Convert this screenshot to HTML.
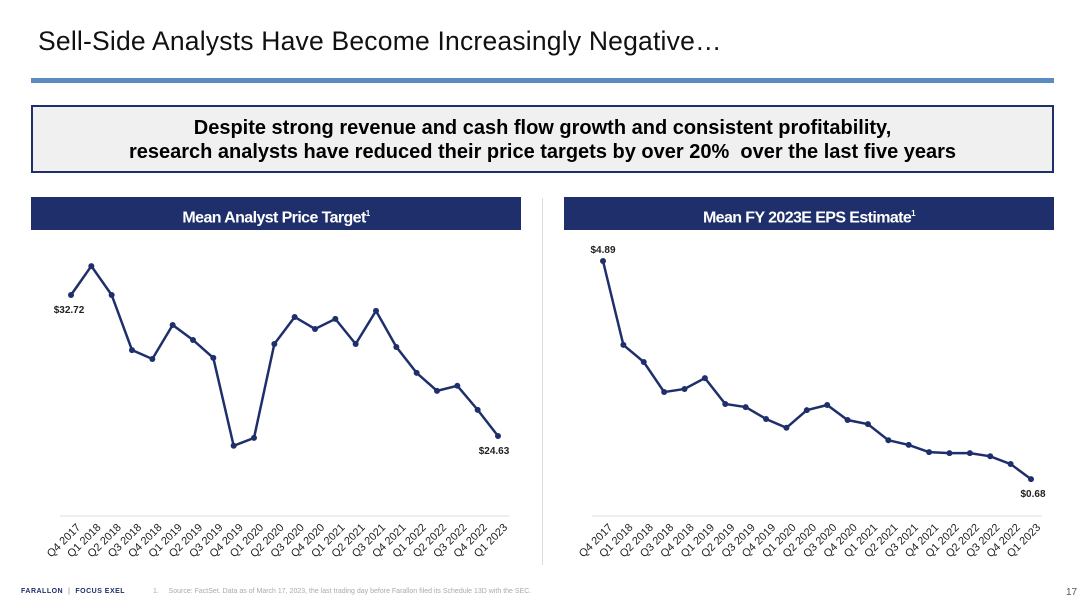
<!DOCTYPE html>
<html><head><meta charset="utf-8"><style>
body{margin:0;width:1088px;height:612px;background:#fff;font-family:"Liberation Sans",sans-serif;position:relative;overflow:hidden}
.abs{position:absolute}
.hdr{position:absolute;top:197px;height:33px;background:#1f2f6b;color:#fff;font-weight:bold;font-size:16px;line-height:33px;text-align:center;letter-spacing:-0.6px}
</style></head><body>
<div class="abs" style="left:38px;top:26px;font-size:26.5px;color:#111;letter-spacing:0.2px">Sell-Side Analysts Have Become Increasingly Negative…</div>
<div class="abs" style="left:31px;top:78px;width:1023px;height:5px;background:#5b8cc0"></div>
<div class="abs" style="left:31px;top:105px;width:1019px;border:2px solid #1f2f6b;background:#f0f0f0;text-align:center;font-weight:bold;font-size:20px;line-height:24px;padding-top:9px;height:55px">Despite strong revenue and cash flow growth and consistent profitability,<br>research analysts have reduced their price targets by over 20%&nbsp; over the last five years</div>
<div class="hdr" style="left:31px;width:490px">Mean Analyst Price Target<sup style="font-size:8px">1</sup></div>
<div class="hdr" style="left:564px;width:490px">Mean FY 2023E EPS Estimate<sup style="font-size:8px">1</sup></div>
<div class="abs" style="left:542px;top:198px;width:1px;height:367px;background:#ddd"></div>
<svg class="abs" style="left:0;top:0" width="1088" height="612">
<g id="c1"></g>
<g id="c2"></g>
</svg>
<div class="abs" style="left:21px;top:588px;font-size:7px;font-weight:bold;color:#1f2f6b;letter-spacing:0.5px">FARALLON &nbsp;<span style="color:#aaa">|</span>&nbsp; FOCUS EXEL</div>
<div class="abs" style="left:153px;top:588px;font-size:7px;color:#aaa">1. &nbsp;&nbsp;&nbsp;&nbsp;Source: FactSet. Data as of March 17, 2023, the last trading day before Farallon filed its Schedule 13D with the SEC.</div>
<div class="abs" style="left:1066px;top:587px;font-size:10px;color:#555">17</div>
<script>
const categories=["Q4 2017","Q1 2018","Q2 2018","Q3 2018","Q4 2018","Q1 2019","Q2 2019","Q3 2019","Q4 2019","Q1 2020","Q2 2020","Q3 2020","Q4 2020","Q1 2021","Q2 2021","Q3 2021","Q4 2021","Q1 2022","Q2 2022","Q3 2022","Q4 2022","Q1 2023"];
const priceTarget=[32.72,34.38,32.72,29.56,29.05,31.0,30.14,29.11,24.07,24.52,29.91,31.46,30.77,31.35,29.91,31.81,29.74,28.25,27.22,27.51,26.13,24.63];
const epsEstimate=[4.89,3.27,2.94,2.36,2.42,2.63,2.13,2.07,1.84,1.67,2.01,2.11,1.82,1.74,1.43,1.34,1.20,1.18,1.18,1.12,0.97,0.68];
const priceLabels=["$32.72","$24.63"];
const epsLabels=["$4.89","$0.68"];
const NS="http://www.w3.org/2000/svg";
function draw(gid,vals,labels,cfg){
  const g=document.getElementById(gid);
  const n=vals.length;
  const xs=i=>cfg.x0+(cfg.x1-cfg.x0)*i/(n-1);
  const ys=v=>cfg.yRef+(cfg.vRef-v)*cfg.k;
  const ax=document.createElementNS(NS,'line');
  
  
  ax.setAttribute('x1',cfg.x0-11);ax.setAttribute('x2',cfg.x1+11);ax.setAttribute('y1',516);ax.setAttribute('y2',516);
  ax.setAttribute('stroke','#ddd');g.appendChild(ax);
  const pl=document.createElementNS(NS,'polyline');
  
  
  pl.setAttribute('points',vals.map((v,i)=>xs(i)+','+ys(v)).join(' '));
  pl.setAttribute('fill','none');pl.setAttribute('stroke','#1f2f6b');pl.setAttribute('stroke-width','2.5');
  g.appendChild(pl);
  vals.forEach((v,i)=>{
    const c=document.createElementNS(NS,'circle');
    
    
    c.setAttribute('cx',xs(i));c.setAttribute('cy',ys(v));c.setAttribute('r',3);c.setAttribute('fill','#1f2f6b');
    g.appendChild(c);
    const t=document.createElementNS(NS,'text');
    
    
    const lx=xs(i)+5,ly=523;
    t.setAttribute('x',lx);t.setAttribute('y',ly);t.setAttribute('text-anchor','end');
    t.setAttribute('transform','rotate(-45 '+lx+' '+ly+')');
    t.setAttribute('font-size','11');t.setAttribute('fill','#222');t.setAttribute('dominant-baseline','hanging');
    t.textContent=categories[i];g.appendChild(t);
  });
  [[0,cfg.l0],[n-1,cfg.l1]].forEach(([i,o],j)=>{
    const t=document.createElementNS(NS,'text');
    
    
    t.setAttribute('x',xs(i)+o[0]);t.setAttribute('y',ys(vals[i])+o[1]);t.setAttribute('text-anchor','middle');
    t.setAttribute('font-size','10');t.setAttribute('font-weight','bold');t.setAttribute('fill','#222');
    t.textContent=labels[j];g.appendChild(t);
  });
}
draw('c1',priceTarget,priceLabels,{x0:71,x1:498,yRef:295,vRef:32.72,k:17.43,l0:[-2,18],l1:[-4,18]});
draw('c2',epsEstimate,epsLabels,{x0:603,x1:1031,yRef:261,vRef:4.89,k:51.8,l0:[0,-8],l1:[2,18]});
</script>
</body></html>
